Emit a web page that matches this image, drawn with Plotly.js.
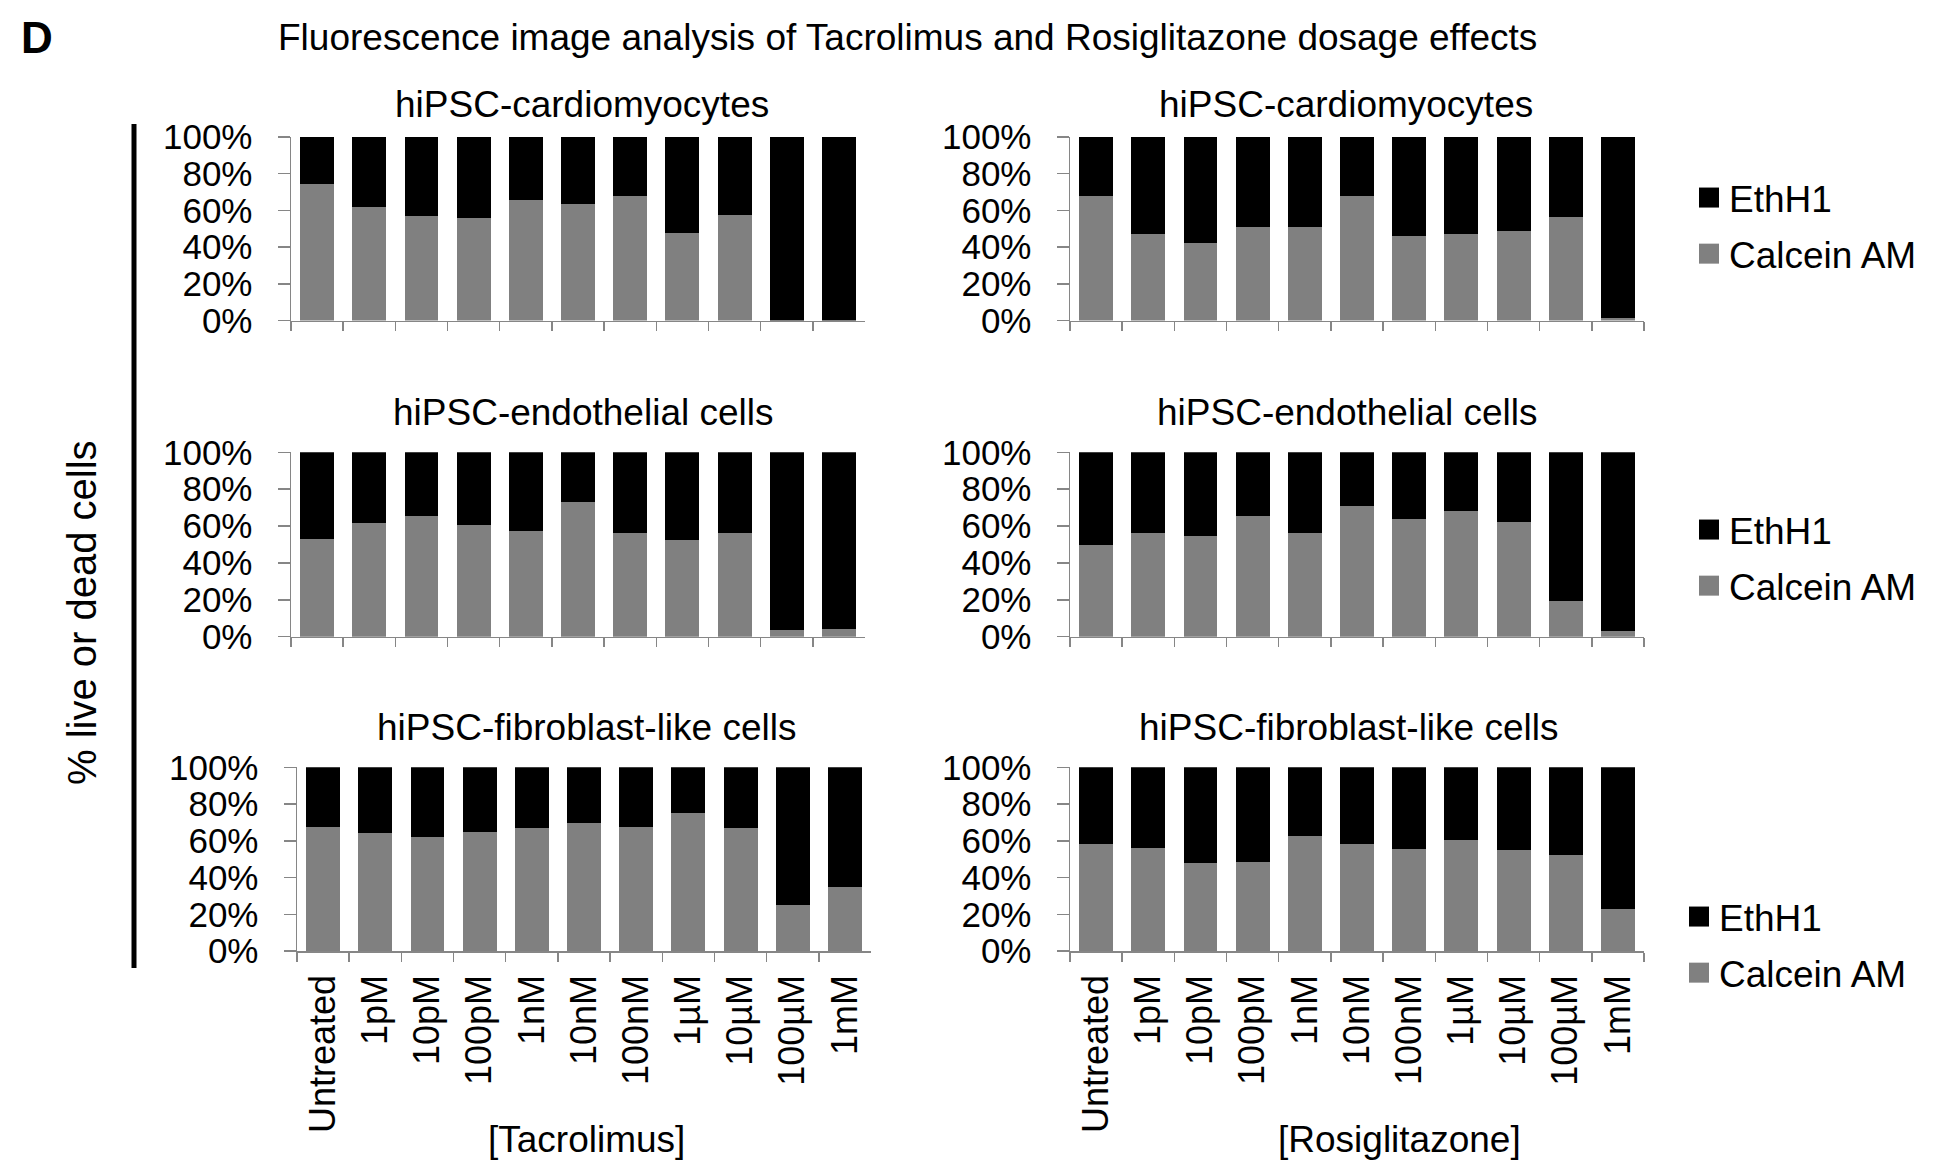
<!DOCTYPE html>
<html>
<head>
<meta charset="utf-8">
<script src="https://cdn.plot.ly/plotly-3.0.1.min.js"></script>
<style>
html,body{margin:0;padding:0;background:#ffffff;}
#chart{width:1941px;height:1161px;}
</style>
</head>
<body>
<div id="chart"></div>
<script>
// ---------- DATA ----------
const doses = ['Untreated','1pM','10pM','100pM','1nM','10nM','100nM','1µM','10µM','100µM','1mM'];

const tacCardioCalcein = [74.5, 61.7, 56.8, 55.8, 65.5, 63.5, 67.7, 47.6, 57.5, 0, 0];
const tacCardioEthH1   = [25.5, 38.3, 43.2, 44.2, 34.5, 36.5, 32.3, 52.4, 42.5, 100, 100];

const rosiCardioCalcein = [67.9, 46.9, 42.2, 50.9, 50.9, 68.1, 46.2, 47.4, 48.7, 56.4, 1.6];
const rosiCardioEthH1   = [32.1, 53.1, 57.8, 49.1, 49.1, 31.9, 53.8, 52.6, 51.3, 43.6, 98.4];

const tacEndoCalcein = [53.2, 61.5, 65.3, 60.6, 57.3, 73.1, 56.2, 52.6, 56.2, 3.6, 4.0];
const tacEndoEthH1   = [46.8, 38.5, 34.7, 39.4, 42.7, 26.9, 43.8, 47.4, 43.8, 96.4, 96.0];

const rosiEndoCalcein = [49.5, 56.2, 54.6, 65.5, 56.1, 70.9, 64.0, 68.2, 62.2, 19.2, 3.1];
const rosiEndoEthH1   = [50.5, 43.8, 45.4, 34.5, 43.9, 29.1, 36.0, 31.8, 37.8, 80.8, 96.9];

const tacFibroCalcein = [67.3, 64.1, 62.3, 64.8, 67.2, 69.5, 67.5, 75.3, 67.0, 24.9, 34.8];
const tacFibroEthH1   = [32.7, 35.9, 37.7, 35.2, 32.8, 30.5, 32.5, 24.7, 33.0, 75.1, 65.2];

const rosiFibroCalcein = [58.3, 56.3, 48.1, 48.3, 62.6, 58.3, 55.7, 60.3, 55.0, 52.5, 22.7];
const rosiFibroEthH1   = [41.7, 43.7, 51.9, 51.7, 37.4, 41.7, 44.3, 39.7, 45.0, 47.5, 77.3];

const yTickVals = [0, 20, 40, 60, 80, 100];
const yTickText = ['0%', '20%', '40%', '60%', '80%', '100%'];
const panelTitles = ['hiPSC-cardiomyocytes', 'hiPSC-endothelial cells', 'hiPSC-fibroblast-like cells'];
const seriesNames = ['Calcein AM', 'EthH1'];
const drugTitles = ['[Tacrolimus]', '[Rosiglitazone]'];

// ---------- LAYOUT HELPERS ----------
const W = 1941, H = 1161;
const px = v => v / W;
const py = v => 1 - v / H;
const FONT = 'Liberation Sans, Arial, Helvetica, sans-serif';
const GRAY = '#808080', BLACK = '#000000', AXIS = '#868686';

// panel geometry (pixels): [left, right, top, bottom]
const panels = [
  {calc: tacCardioCalcein,  eth: tacCardioEthH1,  box: [291, 865, 137, 320.5], labels: false, legend: null},
  {calc: rosiCardioCalcein, eth: rosiCardioEthH1, box: [1070, 1644, 137, 320.5], labels: false, legend: 'legend'},
  {calc: tacEndoCalcein,    eth: tacEndoEthH1,    box: [291, 865, 452.3, 636.7], labels: false, legend: null},
  {calc: rosiEndoCalcein,   eth: rosiEndoEthH1,   box: [1070, 1644, 452.3, 636.7], labels: false, legend: 'legend2'},
  {calc: tacFibroCalcein,   eth: tacFibroEthH1,   box: [297, 871, 767.3, 951], labels: true, legend: null},
  {calc: rosiFibroCalcein,  eth: rosiFibroEthH1,  box: [1070, 1644, 767.3, 951], labels: true, legend: 'legend3'}
];

const traces = [];
const layout = {
  width: W, height: H,
  margin: {l: 0, r: 0, t: 0, b: 0},
  paper_bgcolor: '#ffffff', plot_bgcolor: 'rgba(0,0,0,0)',
  barmode: 'stack', bargap: 0.35,
  font: {family: FONT, color: BLACK, size: 36},
  showlegend: true,
  annotations: [], shapes: []
};

panels.forEach((p, i) => {
  const n = i + 1;
  const xa = n === 1 ? 'x' : 'x' + n;
  const ya = n === 1 ? 'y' : 'y' + n;
  const show = p.legend !== null;
  traces.push({
    type: 'bar', x: doses, y: p.calc, name: seriesNames[0],
    xaxis: xa, yaxis: ya, marker: {color: GRAY},
    showlegend: show, legend: p.legend || 'legend', legendgroup: 'cal' + n, legendrank: 2,
    hoverinfo: 'x+y+name'
  });
  traces.push({
    type: 'bar', x: doses, y: p.eth, name: seriesNames[1],
    xaxis: xa, yaxis: ya, marker: {color: BLACK},
    showlegend: show, legend: p.legend || 'legend', legendgroup: 'eth' + n, legendrank: 1,
    hoverinfo: 'x+y+name'
  });
  const [l, r, t, b] = p.box;
  layout['xaxis' + (n === 1 ? '' : n)] = {
    domain: [px(l), px(r)], anchor: ya, type: 'category',
    showline: true, linecolor: AXIS, linewidth: 1.5,
    ticks: 'outside', tickson: 'boundaries', ticklen: 9, tickcolor: AXIS, tickwidth: 1.5,
    showticklabels: p.labels, tickangle: -90, ticklabelstandoff: 8,
    tickfont: {family: FONT, size: 36, color: BLACK},
    showgrid: false, zeroline: false, fixedrange: true
  };
  layout['yaxis' + (n === 1 ? '' : n)] = {
    domain: [py(b), py(t)], anchor: xa, range: [0, 100],
    tickmode: 'array', tickvals: yTickVals, ticktext: yTickText,
    showline: true, linecolor: AXIS, linewidth: 1.5,
    ticks: 'outside', ticklen: 12, tickcolor: AXIS, tickwidth: 1.5,
    ticklabelstandoff: 18,
    tickfont: {family: FONT, size: 35, color: BLACK},
    showgrid: false, zeroline: false, fixedrange: true
  };
});

const legendBase = {
  xanchor: 'left', yanchor: 'top', bgcolor: 'rgba(0,0,0,0)',
  font: {family: FONT, size: 37, color: BLACK},
  traceorder: 'grouped', tracegroupgap: 5, itemclick: false, itemdoubleclick: false
};
layout.legend  = Object.assign({}, legendBase, {x: px(1689), y: py(167)});
layout.legend2 = Object.assign({}, legendBase, {x: px(1689), y: py(499)});
layout.legend3 = Object.assign({}, legendBase, {x: px(1679), y: py(886)});

// text annotations
const ann = (text, x, y, size, extra) => Object.assign({
  text: text, xref: 'paper', yref: 'paper', x: px(x), y: py(y),
  xanchor: 'center', yanchor: 'middle', showarrow: false,
  font: {family: FONT, size: size, color: BLACK}
}, extra || {});

layout.annotations.push(ann('<b>D</b>', 37, 38, 44));
layout.annotations.push(ann('Fluorescence image analysis of Tacrolimus and Rosiglitazone dosage effects', 907, 37, 37));
layout.annotations.push(ann(panelTitles[0], 582, 104, 37));
layout.annotations.push(ann(panelTitles[0], 1346, 104, 37));
layout.annotations.push(ann(panelTitles[1], 583, 412, 37));
layout.annotations.push(ann(panelTitles[1], 1347, 412, 37));
layout.annotations.push(ann(panelTitles[2], 586, 727, 37));
layout.annotations.push(ann(panelTitles[2], 1348, 727, 37));
layout.annotations.push(ann(drugTitles[0], 586, 1139, 37));
layout.annotations.push(ann(drugTitles[1], 1399, 1139, 37));
layout.annotations.push(ann('% live or dead cells', 82, 613, 40, {textangle: -90}));

layout.shapes.push({
  type: 'line', xref: 'paper', yref: 'paper',
  x0: px(134), x1: px(134), y0: py(124), y1: py(968),
  line: {color: BLACK, width: 5}
});

Plotly.newPlot('chart', traces, layout, {displayModeBar: false, staticPlot: true}).then(gd => {
  // enlarge the legend swatches (all three legends) to match the reference squares
  gd.querySelectorAll('.legendpoints path').forEach(p => {
    p.setAttribute('d', 'M10,10H-10V-10H10Z');
  });
});
</script>
</body>
</html>
